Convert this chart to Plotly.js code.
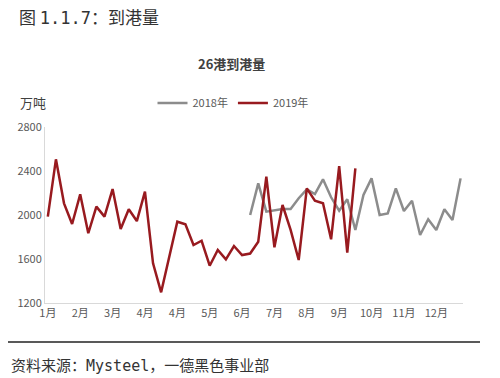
<!DOCTYPE html>
<html><head><meta charset="utf-8">
<script src="https://cdn.plot.ly/plotly-3.0.1.min.js"></script>
<style>body{margin:0;background:#fff}#c{width:500px;height:378px}</style>
</head><body><div id="c"></div>
<script>
const weekTickLabels = ["1月","2月","3月","4月","4月","5月","6月","7月","8月","9月","10月","11月","12月"];
const series2018Name = "2018年";
const series2019Name = "2019年";
const values2019 = [1985,2506,2106,1918,2188,1834,2076,1985,2236,1873,2052,1945,2212,1561,1297,1606,1939,1915,1727,1766,1539,1682,1597,1718,1636,1650,1757,2348,1706,2091,1864,1591,2242,2130,2106,1779,2445,1657,2424];
const values2018 = [null,null,null,null,null,null,null,null,null,null,null,null,null,null,null,null,null,null,null,null,null,null,null,null,null,2000,2288,2030,2045,2055,2055,2152,2233,2191,2324,2161,2039,2143,1864,2182,2333,2000,2015,2242,2036,2130,1818,1961,1864,2052,1955,2333];

const weeks = values2018.map((_, i) => i);
const tickIdx = weekTickLabels.map((_, i) => i * 4);

const L = 45, R = 463, T = 127, B = 303;
const px = x => (x - L) / (R - L);
const py = y => (B - y) / (B - T);
const FONT = '"Noto Sans CJK SC", "Liberation Sans", sans-serif';
const MONO = 'font-family:\'DejaVu Sans Mono\', monospace';

const data = [
  {x: weeks, y: values2018, name: series2018Name, type: 'scatter', mode: 'lines',
   line: {color: '#8c8c8c', width: 2.5}, connectgaps: false},
  {x: weeks.slice(0, values2019.length), y: values2019, name: series2019Name, type: 'scatter', mode: 'lines',
   line: {color: '#981a1f', width: 2.5}}
];

const layout = {
  width: 500, height: 378,
  margin: {l: L, r: 500 - R, t: T, b: 378 - B, pad: 0},
  paper_bgcolor: '#fff', plot_bgcolor: '#fff',
  font: {family: FONT, size: 11, color: '#595959'},
  showlegend: true,
  legend: {orientation: 'h', x: px(233), xanchor: 'center', y: py(103), yanchor: 'middle',
           font: {size: 11, color: '#595959'}, itemwidth: 30, bgcolor: 'rgba(0,0,0,0)'},
  xaxis: {range: [-0.35, 51.3], tickvals: tickIdx, ticktext: weekTickLabels, showgrid: false,
          zeroline: false, showline: true, linecolor: '#d9d9d9', linewidth: 1, ticks: '',
          tickfont: {size: 11, color: '#595959'}, fixedrange: true},
  yaxis: {range: [1200, 2800], tickvals: [1200,1600,2000,2400,2800], showgrid: false,
          zeroline: false, showline: true, linecolor: '#d9d9d9', linewidth: 1, ticks: '',
          tickfont: {size: 11, color: '#595959'}, fixedrange: true},
  shapes: [
    {type: 'line', xref: 'paper', yref: 'paper', x0: px(8), x1: px(480), y0: py(342), y1: py(342),
     line: {color: '#222', width: 1.5}}
  ],
  annotations: [
    {text: '图 <span style="' + MONO + '">1.1.7</span>：到港量', xref: 'paper', yref: 'paper', x: px(17), y: py(16), xanchor: 'left', yanchor: 'middle',
     showarrow: false, font: {size: 17, color: '#333', family: FONT}},
    {text: '<b>26港到港量</b>', xref: 'paper', yref: 'paper', x: px(231), y: py(63), xanchor: 'center', yanchor: 'middle',
     showarrow: false, font: {size: 13, color: '#404040', family: FONT}},
    {text: '万吨', xref: 'paper', yref: 'paper', x: px(18), y: py(103), xanchor: 'left', yanchor: 'middle',
     showarrow: false, font: {size: 13, color: '#404040', family: FONT}},
    {text: '资料来源：<span style="' + MONO + '">Mysteel</span>，一德黑色事业部', xref: 'paper', yref: 'paper', x: px(9), y: py(364), xanchor: 'left', yanchor: 'middle',
     showarrow: false, font: {size: 15, color: '#333', family: FONT}}
  ]
};
Plotly.newPlot('c', data, layout, {staticPlot: true, displayModeBar: false});
</script></body></html>
